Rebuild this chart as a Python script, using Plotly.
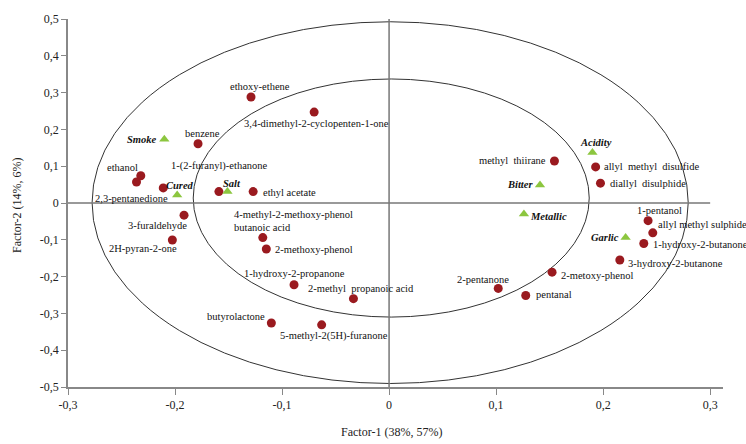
import plotly.graph_objects as go

# ---------------- data ----------------
compounds = ["ethoxy-ethene", "3,4-dimethyl-2-cyclopenten-1-one", "benzene", "ethanol",
             "2,3-pentanedione", "1-(2-furanyl)-ethanone", "4-methyl-2-methoxy-phenol",
             "ethyl acetate", "3-furaldehyde", "2H-pyran-2-one", "butanoic acid",
             "2-methoxy-phenol", "1-hydroxy-2-propanone", "2-methyl  propanoic acid",
             "butyrolactone", "5-methyl-2(5H)-furanone", "methyl  thiirane",
             "allyl  methyl  disulfide", "diallyl  disulphide", "1-pentanol",
             "allyl methyl sulphide", "1-hydroxy-2-butanone", "3-hydroxy-2-butanone",
             "2-metoxy-phenol", "2-pentanone", "pentanal"]
comp_x = [-0.129, -0.070, -0.1785, -0.232, -0.236, -0.211, -0.159, -0.127, -0.1916, -0.2025,
          -0.118, -0.1147, -0.0888, -0.0333, -0.110, -0.063, 0.1545, 0.193, 0.1975, 0.242,
          0.2464, 0.238, 0.2156, 0.1523, 0.102, 0.1277]
comp_y = [0.288, 0.247, 0.161, 0.074, 0.057, 0.041, 0.031, 0.031, -0.033, -0.1005,
          -0.094, -0.125, -0.222, -0.260, -0.326, -0.331, 0.114, 0.098, 0.054, -0.048,
          -0.081, -0.110, -0.155, -0.188, -0.232, -0.2515]

attributes = ["Smoke", "Cured", "Salt", "Acidity", "Bitter", "Metallic", "Garlic"]
attr_x = [-0.210, -0.198, -0.151, 0.190, 0.141, 0.126, 0.221]
attr_y = [0.173, 0.022, 0.031, 0.137, 0.049, -0.030, -0.0935]

x_ticks = [-0.3, -0.2, -0.1, 0, 0.1, 0.2, 0.3]
x_ticktext = ["-0,3", "-0,2", "-0,1", "0", "0,1", "0,2", "0,3"]
y_ticks = [-0.5, -0.4, -0.3, -0.2, -0.1, 0, 0.1, 0.2, 0.3, 0.4, 0.5]
y_ticktext = ["-0,5", "-0,4", "-0,3", "-0,2", "-0,1", "0", "0,1", "0,2", "0,3", "0,4", "0,5"]

# ---------------- styling ----------------
FONT = "Liberation Serif"
DOT = "#9a1a1f"
TRI = "#8cc63f"
LABEL_SIZE = 10.5

# label placement: (anchor, dx px, dy px downwards)
comp_label_pos = [("center", 9, -11), ("center", 2, 11), ("center", 4, -10), ("center", -18, -8),
                  ("center", -5, 16), ("center", 56, -22), ("center", 75, 23), ("left", 8, 1),
                  ("center", -27, 10), ("center", -29, 9), ("center", 0, -10), ("left", 7, 0),
                  ("center", 0, -11), ("center", 8, -10), ("right", -4, -6), ("center", 12, 11),
                  ("right", -6, -1), ("left", 6, 0), ("left", 8, 0), ("center", 11, -10),
                  ("left", 3, -8), ("left", 7, 1), ("left", 6, 3), ("left", 7, 3),
                  ("center", -15, -9), ("left", 8, -1)]
attr_label_pos = [("right", -5, 0), ("center", 3, -9), ("center", 5, -8), ("center", 4, -10),
                  ("right", -5, 0), ("left", 4, 2), ("right", -5, 0)]

# correlation ellipses (center x, center y, semi-x, semi-y)
ellipses = [(0.001, 0.001, 0.2785, 0.4915), (0.002, 0.0135, 0.185, 0.3235)]

fig = go.Figure()

fig.add_trace(go.Scatter(x=comp_x, y=comp_y, mode="markers",
                         marker=dict(symbol="circle", size=9, color=DOT),
                         hovertext=compounds, showlegend=False))
fig.add_trace(go.Scatter(x=attr_x, y=attr_y, mode="markers",
                         marker=dict(symbol="triangle-up", size=9, color=TRI),
                         hovertext=attributes, showlegend=False))

annotations = []
for name, x, y, (anc, dx, dy) in zip(compounds, comp_x, comp_y, comp_label_pos):
    annotations.append(dict(x=x, y=y, xref="x", yref="y", text=name, showarrow=False,
                            xanchor=anc, yanchor="middle", xshift=dx, yshift=-dy,
                            font=dict(family=FONT, size=LABEL_SIZE, color="#111")))
for name, x, y, (anc, dx, dy) in zip(attributes, attr_x, attr_y, attr_label_pos):
    annotations.append(dict(x=x, y=y, xref="x", yref="y", text="<b><i>" + name + "</i></b>",
                            showarrow=False, xanchor=anc, yanchor="middle", xshift=dx, yshift=-dy,
                            font=dict(family=FONT, size=LABEL_SIZE, color="#111")))

annotations.append(dict(x=0.4946, y=-0.121, xref="paper", yref="paper",
                        text="Factor-1 (38%, 57%)", showarrow=False,
                        xanchor="center", yanchor="middle",
                        font=dict(family=FONT, size=12, color="#222")))
annotations.append(dict(x=-0.078, y=0.4946, xref="paper", yref="paper",
                        text="Factor-2 (14%, 6%)", showarrow=False, textangle=-90,
                        xanchor="center", yanchor="middle",
                        font=dict(family=FONT, size=12, color="#222")))

shapes = []
for cx, cy, a, b in ellipses:
    shapes.append(dict(type="circle", xref="x", yref="y", x0=cx - a, x1=cx + a,
                       y0=cy - b, y1=cy + b, line=dict(color="#333", width=1), layer="below"))
shapes.append(dict(type="line", xref="x", yref="y", x0=x_ticks[0], x1=x_ticks[-1], y0=0, y1=0,
                   line=dict(color="#777", width=1.5), layer="below"))
shapes.append(dict(type="line", xref="x", yref="y", x0=0, x1=0, y0=y_ticks[0], y1=y_ticks[-1],
                   line=dict(color="#777", width=1.5), layer="below"))

fig.update_layout(
    width=746, height=444,
    margin=dict(l=68, r=23, t=15, b=57),
    paper_bgcolor="white", plot_bgcolor="white",
    font=dict(family=FONT),
    annotations=annotations, shapes=shapes,
    xaxis=dict(range=[-0.3, 0.312], tickvals=x_ticks, ticktext=x_ticktext,
               showgrid=False, zeroline=False, showline=True, linecolor="#888", linewidth=2,
               ticks="outside", ticklen=6, tickcolor="#888",
               tickfont=dict(family=FONT, size=12, color="#222")),
    yaxis=dict(range=[-0.5, 0.5], tickvals=y_ticks, ticktext=y_ticktext,
               showgrid=False, zeroline=False, showline=True, linecolor="#888", linewidth=1.5,
               ticks="outside", ticklen=5, tickcolor="#888",
               tickfont=dict(family=FONT, size=12, color="#222")),
)

fig.write_html("out.html")
